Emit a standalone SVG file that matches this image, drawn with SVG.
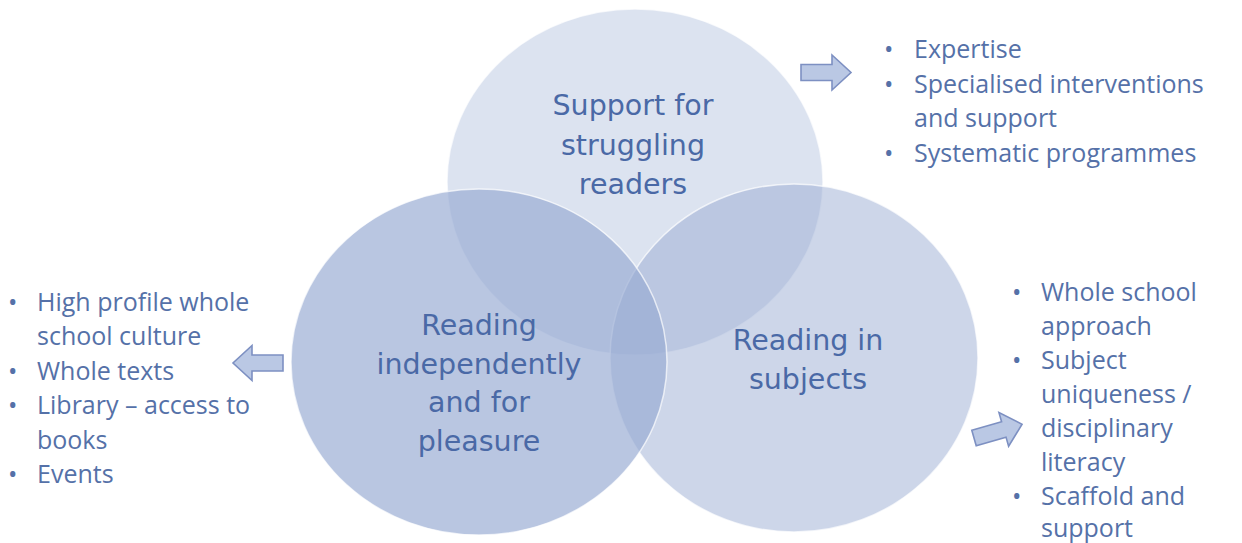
<svg xmlns="http://www.w3.org/2000/svg" width="1242" height="543" viewBox="0 0 1242 543">
  <defs>
    <style>
      .ring { fill: #96aad2; stroke: #ffffff; stroke-width: 1.5; stroke-opacity: 0.7; }
      .label { font-family: "DejaVu Sans", Verdana, sans-serif; font-size: 28.5px; fill: #4a69a6; text-anchor: middle; }
      .item { font-family: "Open Sans", "Noto Sans", sans-serif; font-size: 25px; fill: #5571a8; }
      .arrow { fill: #bac8e4; stroke: #7d90c2; stroke-width: 1.6; stroke-linejoin: miter; }
    </style>
    <!-- block arrow pointing right, tail at origin -->
    <polygon id="blockArrow" points="0,-8 31,-8 31,-17.5 50,0 31,17.5 31,8 0,8"/>
  </defs>

  <rect width="1242" height="543" fill="#ffffff"/>

  <!-- Venn circles -->
  <g id="node-struggling">
    <ellipse class="ring" cx="635" cy="182" rx="188" ry="173" fill-opacity="0.33"/>
  </g>
  <g id="node-subjects">
    <ellipse class="ring" cx="794" cy="358" rx="184" ry="174" fill-opacity="0.48"/>
  </g>
  <g id="node-pleasure">
    <ellipse class="ring" cx="479" cy="362" rx="188" ry="173" fill-opacity="0.67"/>
  </g>

  <!-- circle captions -->
  <g id="label-struggling">
    <text class="label" x="633" y="115">Support for</text>
    <text class="label" x="633" y="155">struggling</text>
    <text class="label" x="633" y="194">readers</text>
  </g>
  <g id="label-pleasure">
    <text class="label" x="479" y="335">Reading</text>
    <text class="label" x="479" y="374">independently</text>
    <text class="label" x="479" y="412">and for</text>
    <text class="label" x="479" y="451">pleasure</text>
  </g>
  <g id="label-subjects">
    <text class="label" x="808" y="350">Reading in</text>
    <text class="label" x="808" y="389">subjects</text>
  </g>

  <!-- arrows -->
  <g id="connectors">
    <use href="#blockArrow" class="arrow" transform="translate(801,72.5)"/>
    <use href="#blockArrow" class="arrow" transform="translate(283,363) rotate(180)"/>
    <use href="#blockArrow" class="arrow" transform="translate(974,438) rotate(-16)"/>
  </g>

  <!-- bullet lists -->
  <g id="list-struggling">
    <text class="item" x="884" y="58">•</text><text class="item" x="914" y="58">Expertise</text>
    <text class="item" x="884" y="93">•</text><text class="item" x="914" y="93">Specialised interventions</text>
    <text class="item" x="914" y="127">and support</text>
    <text class="item" x="884" y="162">•</text><text class="item" x="914" y="162">Systematic programmes</text>
  </g>
  <g id="list-pleasure">
    <text class="item" x="8" y="311">•</text><text class="item" x="37" y="311">High profile whole</text>
    <text class="item" x="37" y="345">school culture</text>
    <text class="item" x="8" y="380">•</text><text class="item" x="37" y="380">Whole texts</text>
    <text class="item" x="8" y="414">•</text><text class="item" x="37" y="414">Library – access to</text>
    <text class="item" x="37" y="449">books</text>
    <text class="item" x="8" y="483">•</text><text class="item" x="37" y="483">Events</text>
  </g>
  <g id="list-subjects">
    <text class="item" x="1012" y="301">•</text><text class="item" x="1041" y="301">Whole school</text>
    <text class="item" x="1041" y="335">approach</text>
    <text class="item" x="1012" y="369">•</text><text class="item" x="1041" y="369">Subject</text>
    <text class="item" x="1041" y="403">uniqueness /</text>
    <text class="item" x="1041" y="437">disciplinary</text>
    <text class="item" x="1041" y="471">literacy</text>
    <text class="item" x="1012" y="505">•</text><text class="item" x="1041" y="505">Scaffold and</text>
    <text class="item" x="1041" y="537">support</text>
  </g>
</svg>
